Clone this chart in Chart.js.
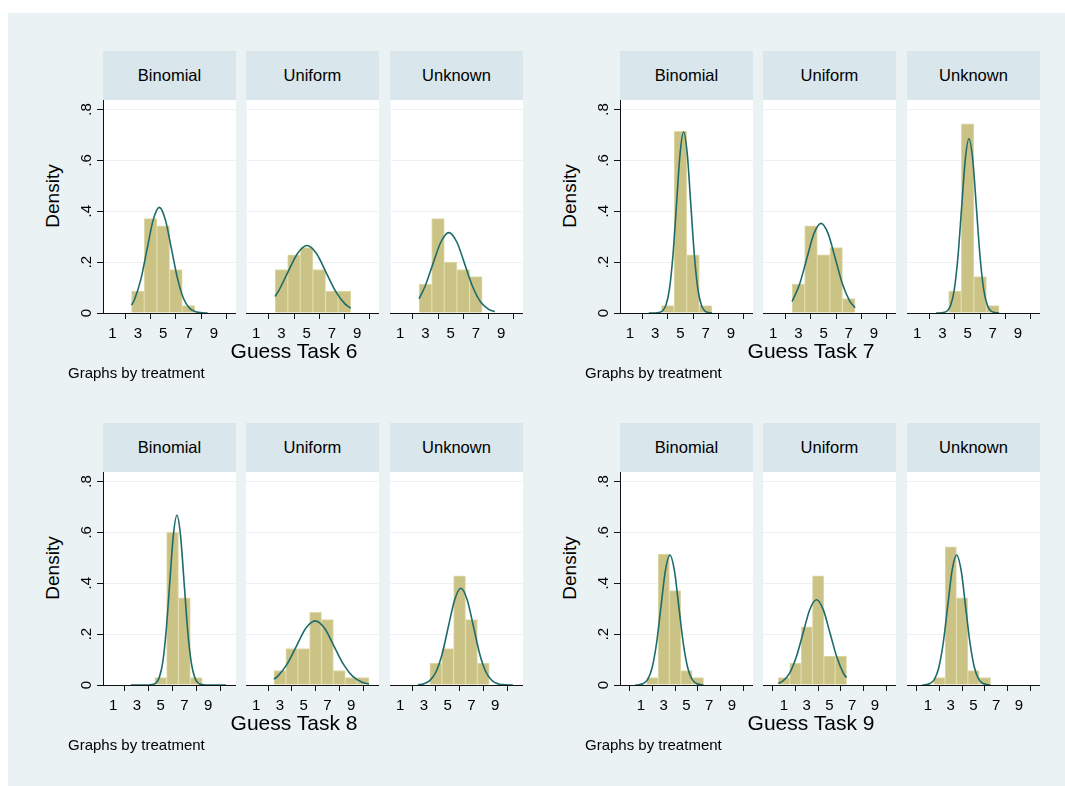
<!DOCTYPE html>
<html>
<head>
<meta charset="utf-8">
<script src="https://cdn.jsdelivr.net/npm/chart.js@4.4.1/dist/chart.umd.min.js"></script>
<style>
  body { margin: 0; width: 1065px; height: 786px; background: #fff; position: relative; overflow: hidden;
         font-family: "Liberation Sans", Arial, sans-serif; }
  #frame { position: absolute; left: 8px; top: 13px; right: 0; bottom: 0; background: #eaf2f3; }
  .strip { position: absolute; background: #d9e6eb; text-align: center; font-size: 16.5px; color: #000; }
  .xtitle { position: absolute; text-align: center; font-size: 21px; line-height: 21px; color: #000; white-space: nowrap; }
  .note { position: absolute; font-size: 15px; line-height: 15px; color: #000; white-space: nowrap; }
  .ytitle { position: absolute; width: 120px; height: 20px; line-height: 20px; text-align: center; font-size: 19px;
            color: #000; transform: rotate(-90deg); white-space: nowrap; }
  canvas { position: absolute; }
</style>
</head>
<body>
<div id="frame"></div>
<script>
// treatments and titles
const treatments = ['Binomial', 'Uniform', 'Unknown'];
const taskTitles = ['Guess Task 6', 'Guess Task 7', 'Guess Task 8', 'Guess Task 9'];
const noteText = 'Graphs by treatment';
const yTitle = 'Density';

// axis ticks
const xTickValues = [1, 3, 5, 7, 9];
const yTickValues = [0, 0.2, 0.4, 0.6, 0.8];
const yTickLabels = ['0', '.2', '.4', '.6', '.8'];
const yMax = 0.837;
// x axis range of each task (values at the plot edges)
const xMin = [0.25, 0.22, 0.15, -0.85];
const xMax = [10.74, 10.75, 11.34, 10.85];

// --- Guess Task 6 ---
const t6BinomialBins = [3, 4, 5, 6, 7];
const t6BinomialDens = [0.086, 0.371, 0.343, 0.171, 0.029];
const t6UniformBins = [3, 4, 5, 6, 7, 8];
const t6UniformDens = [0.171, 0.229, 0.257, 0.171, 0.086, 0.086];
const t6UnknownBins = [3, 4, 5, 6, 7];
const t6UnknownDens = [0.114, 0.371, 0.200, 0.171, 0.143];
const t6BinomialCurveX = [2.5, 2.76, 3.25, 3.73, 4.21, 4.69, 5.17, 5.65, 6.13, 6.61, 7.09, 7.57, 8.05, 8.5];
const t6BinomialCurveY = [0.031, 0.056, 0.135, 0.252, 0.366, 0.415, 0.366, 0.252, 0.135, 0.056, 0.018, 0.005, 0.001, 0];
const t6UniformCurveX = [2.5, 2.77, 3.52, 4.28, 5.03, 5.78, 6.53, 7.29, 8.04, 8.5];
const t6UniformCurveY = [0.065, 0.086, 0.161, 0.234, 0.265, 0.234, 0.161, 0.086, 0.036, 0.019];
const t6UnknownCurveX = [2.5, 2.96, 3.59, 4.23, 4.86, 5.49, 6.12, 6.75, 7.38, 8.02, 8.5];
const t6UnknownCurveY = [0.056, 0.103, 0.192, 0.279, 0.316, 0.279, 0.192, 0.103, 0.043, 0.014, 0.005];

// --- Guess Task 7 ---
const t7BinomialBins = [4, 5, 6, 7];
const t7BinomialDens = [0.029, 0.714, 0.229, 0.029];
const t7UniformBins = [3, 4, 5, 6, 7];
const t7UniformDens = [0.114, 0.343, 0.229, 0.257, 0.057];
const t7UnknownBins = [4, 5, 6, 7];
const t7UnknownDens = [0.086, 0.743, 0.143, 0.029];
const t7BinomialCurveX = [2.5, 3.01, 3.29, 3.57, 3.86, 4.14, 4.42, 4.70, 4.98, 5.26, 5.54, 5.82, 6.10, 6.38, 6.66, 6.94, 7.22, 7.5];
const t7BinomialCurveY = [0, 0, 0.002, 0.008, 0.031, 0.096, 0.231, 0.431, 0.628, 0.711, 0.628, 0.431, 0.231, 0.096, 0.031, 0.008, 0.002, 0];
const t7UniformCurveX = [2.5, 3.10, 3.67, 4.23, 4.80, 5.37, 5.93, 6.50, 7.07, 7.5];
const t7UniformCurveY = [0.045, 0.114, 0.214, 0.311, 0.352, 0.311, 0.214, 0.114, 0.048, 0.021];
const t7UnknownCurveX = [2.5, 2.78, 3.08, 3.37, 3.66, 3.95, 4.24, 4.53, 4.82, 5.11, 5.41, 5.70, 5.99, 6.28, 6.57, 6.86, 7.15, 7.5];
const t7UnknownCurveY = [0, 0, 0.002, 0.008, 0.030, 0.093, 0.222, 0.415, 0.604, 0.685, 0.604, 0.415, 0.222, 0.093, 0.030, 0.008, 0.002, 0];

// --- Guess Task 8 ---
const t8BinomialBins = [5, 6, 7, 8];
const t8BinomialDens = [0.029, 0.600, 0.343, 0.029];
const t8UniformBins = [3, 4, 5, 6, 7, 8, 9, 10];
const t8UniformDens = [0.057, 0.143, 0.143, 0.286, 0.257, 0.057, 0.029, 0.029];
const t8UnknownBins = [4, 5, 6, 7, 8];
const t8UnknownDens = [0.086, 0.143, 0.429, 0.257, 0.086];
const t8BinomialCurveX = [2.5, 3.98, 4.28, 4.58, 4.88, 5.18, 5.47, 5.77, 6.07, 6.37, 6.67, 6.97, 7.27, 7.57, 7.87, 8.17, 8.47, 8.77, 10.5];
const t8BinomialCurveY = [0, 0, 0.002, 0.007, 0.029, 0.090, 0.216, 0.405, 0.589, 0.667, 0.589, 0.405, 0.216, 0.090, 0.029, 0.007, 0.002, 0, 0];
const t8UniformCurveX = [2.5, 2.81, 3.60, 4.39, 5.18, 5.97, 6.76, 7.55, 8.34, 9.13, 9.92, 10.5];
const t8UniformCurveY = [0.023, 0.034, 0.082, 0.153, 0.223, 0.252, 0.223, 0.153, 0.082, 0.034, 0.011, 0.004];
const t8UnknownCurveX = [2.5, 2.96, 3.49, 4.01, 4.54, 5.06, 5.59, 6.11, 6.64, 7.17, 7.69, 8.22, 8.74, 9.27, 9.79, 10.5];
const t8UnknownCurveY = [0.001, 0.004, 0.017, 0.051, 0.123, 0.230, 0.335, 0.380, 0.335, 0.230, 0.123, 0.051, 0.017, 0.004, 0.001, 0];

// --- Guess Task 9 ---
const t9BinomialBins = [2, 3, 4, 5, 6];
const t9BinomialDens = [0.029, 0.514, 0.371, 0.057, 0.029];
const t9UniformBins = [1, 2, 3, 4, 5, 6];
const t9UniformDens = [0.029, 0.086, 0.229, 0.429, 0.114, 0.114];
const t9UnknownBins = [2, 3, 4, 5, 6];
const t9UnknownDens = [0.029, 0.543, 0.343, 0.057, 0.029];
const t9BinomialCurveX = [0.5, 0.81, 1.20, 1.59, 1.98, 2.37, 2.76, 3.15, 3.54, 3.93, 4.32, 4.71, 5.10, 5.49, 5.88, 6.27, 6.5];
const t9BinomialCurveY = [0, 0.001, 0.006, 0.022, 0.069, 0.166, 0.310, 0.451, 0.511, 0.451, 0.310, 0.166, 0.069, 0.022, 0.006, 0.001, 0];
const t9UniformCurveX = [0.5, 0.88, 1.47, 2.07, 2.67, 3.26, 3.86, 4.45, 5.05, 5.65, 6.24, 6.5];
const t9UniformCurveY = [0.006, 0.015, 0.045, 0.109, 0.203, 0.296, 0.335, 0.296, 0.203, 0.109, 0.045, 0.029];
const t9UnknownCurveX = [0.5, 0.78, 1.17, 1.56, 1.95, 2.34, 2.73, 3.12, 3.51, 3.91, 4.30, 4.69, 5.08, 5.47, 5.86, 6.25, 6.5];
const t9UnknownCurveY = [0, 0.001, 0.006, 0.022, 0.069, 0.166, 0.310, 0.451, 0.511, 0.451, 0.310, 0.166, 0.069, 0.022, 0.006, 0.001, 0];

// panel table built from the arrays above, [task][treatment]
const panels = [
  [[t6BinomialBins, t6BinomialDens, t6BinomialCurveX, t6BinomialCurveY],
   [t6UniformBins, t6UniformDens, t6UniformCurveX, t6UniformCurveY],
   [t6UnknownBins, t6UnknownDens, t6UnknownCurveX, t6UnknownCurveY]],
  [[t7BinomialBins, t7BinomialDens, t7BinomialCurveX, t7BinomialCurveY],
   [t7UniformBins, t7UniformDens, t7UniformCurveX, t7UniformCurveY],
   [t7UnknownBins, t7UnknownDens, t7UnknownCurveX, t7UnknownCurveY]],
  [[t8BinomialBins, t8BinomialDens, t8BinomialCurveX, t8BinomialCurveY],
   [t8UniformBins, t8UniformDens, t8UniformCurveX, t8UniformCurveY],
   [t8UnknownBins, t8UnknownDens, t8UnknownCurveX, t8UnknownCurveY]],
  [[t9BinomialBins, t9BinomialDens, t9BinomialCurveX, t9BinomialCurveY],
   [t9UniformBins, t9UniformDens, t9UniformCurveX, t9UniformCurveY],
   [t9UnknownBins, t9UnknownDens, t9UnknownCurveX, t9UnknownCurveY]]
];

// layout
const groupLeft = [103, 620, 103, 620];
const groupTop = [51, 51, 423, 423];
const panelOffset = [0, 143, 287];
const panelW = 133, stripH = 49, plotH = 213, yAxisW = 30, xAxisH = 32;

const barFill = '#cbc386';
const barEdge = '#dedaa9';
const curveColor = '#1e6b6b';
const axisColor = '#111';
const gridColor = '#eaf2f3';
const fontFamily = '"Liberation Sans", Arial, sans-serif';

// white plot region
const plotBg = {
  id: 'plotBg',
  beforeDraw(chart) {
    const a = chart.chartArea;
    chart.ctx.save();
    chart.ctx.fillStyle = '#fff';
    chart.ctx.fillRect(a.left, a.top, a.right - a.left, a.bottom - a.top);
    chart.ctx.restore();
  }
};

// Stata style vertical y tick labels
const yLabels = {
  id: 'yLabels',
  afterDraw(chart) {
    const s = chart.scales.y;
    const ctx = chart.ctx;
    ctx.save();
    ctx.font = '15px ' + fontFamily;
    ctx.fillStyle = '#000';
    ctx.textAlign = 'center';
    ctx.textBaseline = 'middle';
    yTickValues.forEach((v, i) => {
      ctx.save();
      ctx.translate(s.right - 16, s.getPixelForValue(v));
      ctx.rotate(-Math.PI / 2);
      ctx.fillText(yTickLabels[i], 0, 0);
      ctx.restore();
    });
    ctx.restore();
  }
};

function addDiv(cls, text, css) {
  const d = document.createElement('div');
  d.className = cls;
  d.textContent = text;
  Object.assign(d.style, css);
  document.body.appendChild(d);
  return d;
}

function makePanel(g, t) {
  const [bins, dens, cx, cy] = panels[g][t];
  const showY = t === 0;
  const left = groupLeft[g] + panelOffset[t] - (showY ? yAxisW : 0);
  const top = groupTop[g] + stripH;
  const canvas = document.createElement('canvas');
  canvas.width = panelW + (showY ? yAxisW : 0);
  canvas.height = plotH + xAxisH;
  canvas.style.left = left + 'px';
  canvas.style.top = top + 'px';
  document.body.appendChild(canvas);

  new Chart(canvas, {
    type: 'bar',
    data: {
      datasets: [
        {
          type: 'line',
          data: cx.map((x, k) => ({ x: x, y: cy[k] })),
          borderColor: curveColor,
          borderWidth: 1.6,
          pointRadius: 0,
          cubicInterpolationMode: 'monotone',
          fill: false,
          order: 0
        },
        {
          type: 'bar',
          data: bins.map((x, k) => ({ x: x, y: dens[k] })),
          backgroundColor: barFill,
          borderColor: barEdge,
          borderWidth: 1,
          barPercentage: 1,
          categoryPercentage: 1,
          grouped: false,
          order: 1
        }
      ]
    },
    options: {
      responsive: false,
      animation: false,
      devicePixelRatio: 1,
      layout: { padding: 0 },
      plugins: { legend: { display: false }, tooltip: { enabled: false } },
      scales: {
        x: {
          type: 'linear',
          min: xMin[g],
          max: xMax[g],
          offset: false,
          afterBuildTicks: s => { s.ticks = xTickValues.map(v => ({ value: v })); },
          afterFit: s => { s.height = xAxisH; },
          ticks: { autoSkip: false, maxRotation: 0, color: '#000', padding: 6, font: { size: 15, family: fontFamily } },
          grid: { drawOnChartArea: false, drawTicks: true, tickLength: 6, tickColor: axisColor },
          border: { display: true, color: axisColor, width: 1 }
        },
        y: {
          type: 'linear',
          min: 0,
          max: yMax,
          afterBuildTicks: s => { s.ticks = yTickValues.map(v => ({ value: v })); },
          afterFit: s => { s.width = showY ? yAxisW : 0; },
          ticks: { display: false },
          grid: { color: gridColor, lineWidth: 1, drawTicks: showY, tickLength: 6, tickColor: axisColor },
          border: { display: showY, color: axisColor, width: 1 }
        }
      }
    },
    plugins: showY ? [plotBg, yLabels] : [plotBg]
  });
}

for (let g = 0; g < 4; g++) {
  for (let t = 0; t < 3; t++) {
    addDiv('strip', treatments[t], {
      left: (groupLeft[g] + panelOffset[t]) + 'px', top: groupTop[g] + 'px',
      width: panelW + 'px', height: stripH + 'px', lineHeight: stripH + 'px'
    });
    makePanel(g, t);
  }
  const base = groupTop[g] + stripH + plotH;
  addDiv('xtitle', taskTitles[g], {
    left: (groupLeft[g] + 191 - 100) + 'px', width: '200px', top: (base + 27) + 'px'
  });
  addDiv('note', noteText, { left: (groupLeft[g] - 35) + 'px', top: (base + 52) + 'px' });
  addDiv('ytitle', yTitle, {
    left: (groupLeft[g] - 50 - 60) + 'px', top: (groupTop[g] + stripH + 96 - 10) + 'px'
  });
}
</script>
</body>
</html>
